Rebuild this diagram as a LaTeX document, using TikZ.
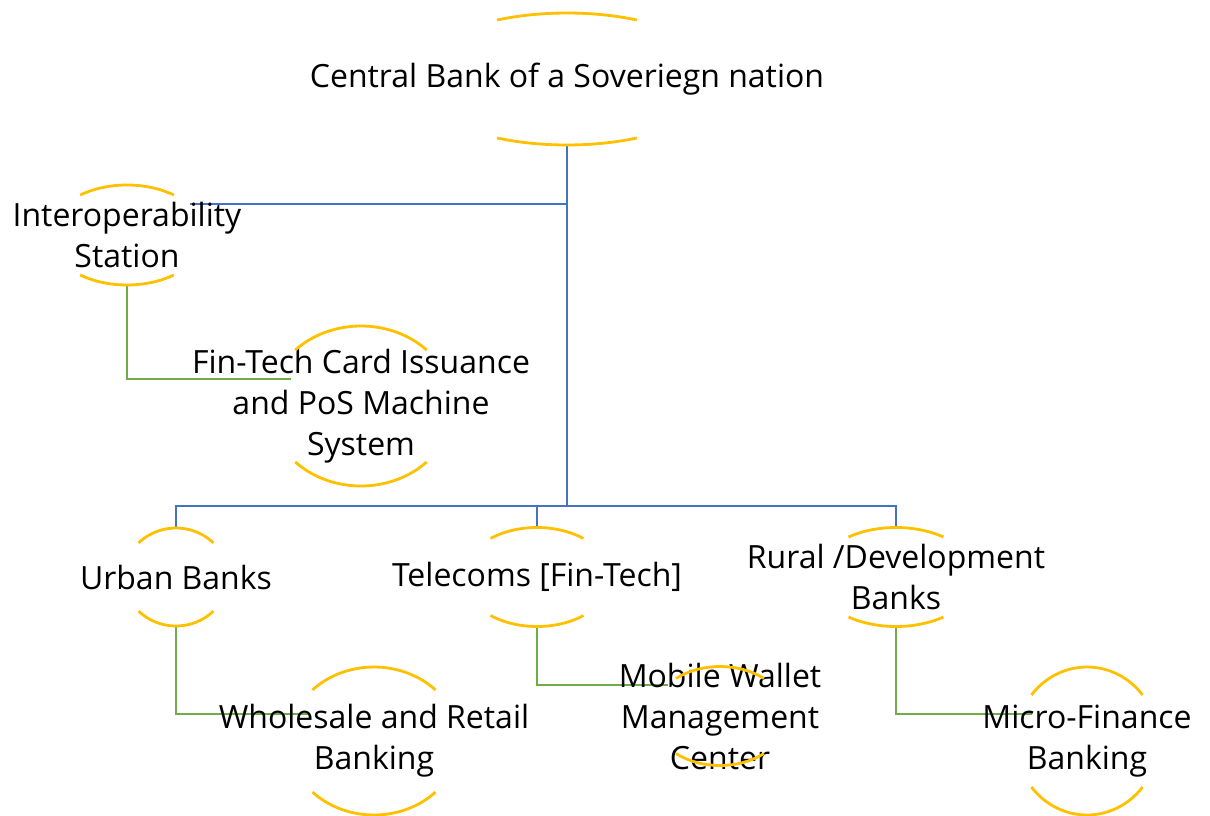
\documentclass[tikz,border=0pt]{standalone}
\usepackage{fontspec}
\setmainfont{Open Sans}
\usetikzlibrary{calc,backgrounds}

\definecolor{ringgold}{RGB}{255,192,0}
\definecolor{linkblue}{RGB}{68,114,196}
\definecolor{linkgreen}{RGB}{112,173,71}

\tikzset{
  unit/.style={align=center,inner sep=0.75pt,font=\fontsize{32}{41}\selectfont},
  ring/.style={ringgold,line width=2.8pt},
  toplink/.style={linkblue,line width=2.6pt},
  sublink/.style={linkgreen,line width=2.6pt}
}

% top and bottom half rings of a unit: node, x radius, y radius, half span
\newcommand{\halfrings}[4]{%
  \draw[ring] ($(#1.center)+(270-#4:#2 and #3)$) arc[start angle=270-#4,end angle=270+#4,x radius=#2,y radius=#3];
  \draw[ring] ($(#1.center)+(90-#4:#2 and #3)$) arc[start angle=90-#4,end angle=90+#4,x radius=#2,y radius=#3];
}

\begin{document}
\begin{tikzpicture}[x=1pt,y=1pt,yscale=-1,xscale=1]
  \useasboundingbox (0,0) rectangle (1210,816);

  % units
  \node[unit] (cbank) at (567,79) {Central Bank of a Soveriegn nation};
  \node[unit] (interop) at (127,235) {Interoperability\\Station};
  \node[unit] (cardpos) at (361,406) {Fin-Tech Card Issuance\\and PoS Machine\\System};
  \node[unit] (urban) at (176,577) {Urban Banks};
  \node[unit] (telecom) at (537,577) {Telecoms [Fin-Tech]};
  \node[unit] (rural) at (896,577) {Rural /Development\\Banks};
  \node[unit] (retail) at (374,741) {Wholesale and Retail\\Banking};
  \node[unit] (wallet) at (720,716) {Mobile Wallet\\Management\\Center};
  \node[unit] (micro) at (1087,741) {Micro-Finance\\Banking};

  % rings
  \halfrings{cbank}{156}{66}{26.6}
  \halfrings{interop}{78}{50}{36.9}
  \halfrings{cardpos}{92}{80}{45.6}
  \halfrings{urban}{52}{49}{46}
  \halfrings{telecom}{74}{49.5}{38.9}
  \halfrings{rural}{80.6}{49.5}{36.1}
  \halfrings{retail}{85}{74}{46.4}
  \halfrings{wallet}{67.5}{49.5}{40.7}
  \halfrings{micro}{71}{74}{51.5}

  % connection points
  \coordinate (cbank-s) at ($(cbank.center)+(0,66)$);
  \coordinate (bus) at ($(cbank.center)+(0,427)$);
  \coordinate (interop-e) at ($(interop.center)+(63,-31)$);
  \coordinate (interop-s) at ($(interop.center)+(0,50)$);
  \coordinate (urban-n) at ($(urban.center)+(0,-49)$);
  \coordinate (urban-s) at ($(urban.center)+(0,49)$);
  \coordinate (telecom-n) at ($(telecom.center)+(0,-50)$);
  \coordinate (telecom-s) at ($(telecom.center)+(0,49)$);
  \coordinate (rural-n) at ($(rural.center)+(0,-50)$);
  \coordinate (rural-s) at ($(rural.center)+(0,49)$);
  \coordinate (cardpos-w) at ($(cardpos.center)+(-70,-27)$);
  \coordinate (retail-w) at ($(retail.center)+(-66,-27)$);
  \coordinate (wallet-w) at ($(wallet.center)+(-52,-31)$);
  \coordinate (micro-w) at ($(micro.center)+(-55,-27)$);

  \begin{scope}[on background layer]
    % first level
    \draw[toplink] (cbank-s) -- (bus);
    \draw[toplink] (interop-e) -- (interop-e -| cbank-s);
    \draw[toplink] (urban-n) |- (bus) -| (rural-n);
    \draw[toplink] (telecom-n) -- (telecom-n |- bus);
    % second level
    \draw[sublink] (interop-s) |- (cardpos-w);
    \draw[sublink] (urban-s) |- (retail-w);
    \draw[sublink] (telecom-s) |- (wallet-w);
    \draw[sublink] (rural-s) |- (micro-w);
  \end{scope}
\end{tikzpicture}
\end{document}
